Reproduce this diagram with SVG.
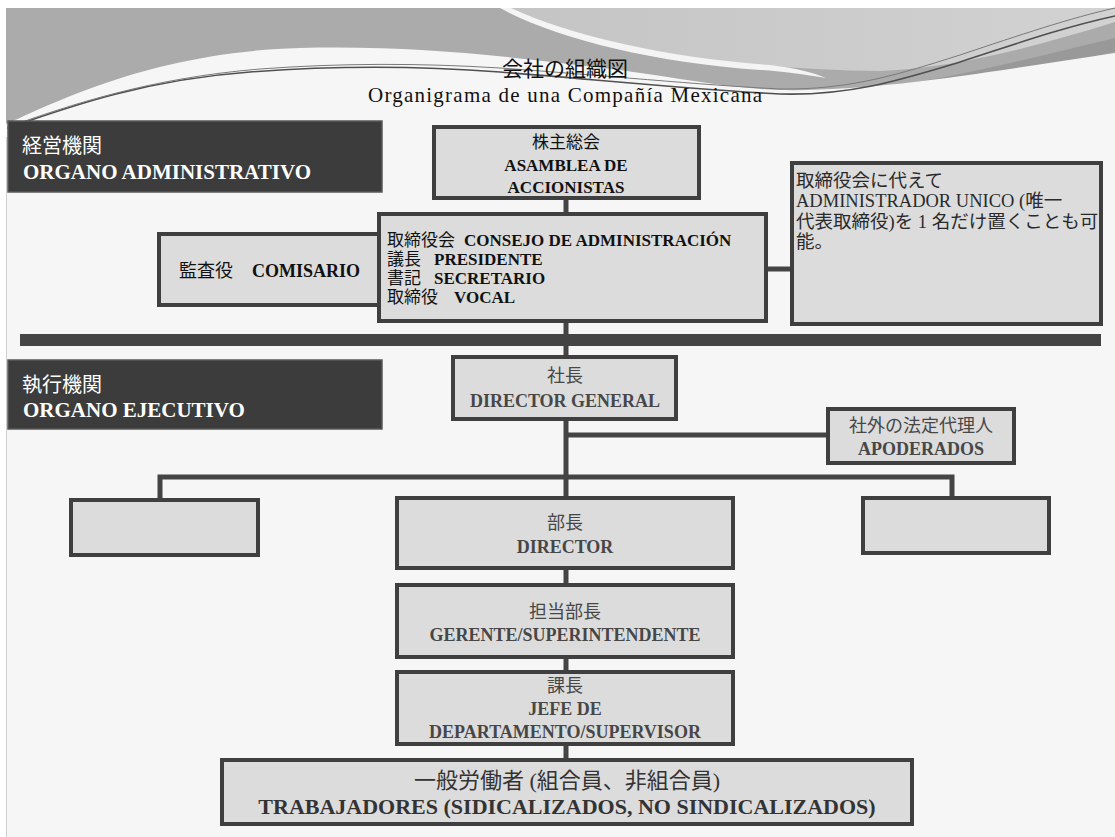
<svg xmlns="http://www.w3.org/2000/svg" width="1115" height="837" viewBox="0 0 1115 837">
  <defs>
    <linearGradient id="hdrLight" x1="0" y1="0" x2="1" y2="0">
      <stop offset="0" stop-color="#c4c4c4"/>
      <stop offset="1" stop-color="#d2d2d2"/>
    </linearGradient>
    <style>
      .box { fill: #dcdcdc; stroke: #3f3f3f; stroke-width: 4; }
      .band { fill: #3c3c3c; stroke: #5a5a5a; stroke-width: 1.5; }
      .link { fill: none; stroke: #444444; stroke-width: 5; stroke-linejoin: miter; }
      .t { font-family: "Liberation Serif", "Noto Sans CJK JP", serif; }
      .lat { font-family: "Liberation Serif", serif; }
      .b { font-weight: bold; }
      .top { fill: #111111; font-size: 17px; }
      .low { fill: #474747; font-size: 18px; text-anchor: middle; }
      .band-jp { fill: #ffffff; font-size: 20px; }
      .band-es { fill: #ffffff; font-size: 21px; font-weight: bold; }
      .curve { fill: none; stroke-linecap: round; }
    </style>
  </defs>

  <!-- page -->
  <rect x="0" y="0" width="1115" height="837" fill="#ffffff"/>
  <rect x="6" y="8" width="1109" height="829" fill="#f6f6f6"/>
  <line x1="6.5" y1="8" x2="6.5" y2="837" stroke="#cfcfcf" stroke-width="1"/>

  <!-- header swoosh -->
  <g id="header">
    <rect x="6" y="8" width="1109" height="125" fill="#ababab"/>
    <path d="M505,8 C560,35 660,58 760,65 C800,68 840,71 880,71 C960,68 1040,45 1115,22 V8 Z" fill="url(#hdrLight)"/>
    <path d="M500,8 L511,8 C570,36 670,58 770,65 C795,68 815,73 826,78 C800,74 780,71 760,70 C650,62 555,38 500,8 Z" fill="#f4f4f4"/>
    <path d="M870,88 C950,80 1030,58 1115,38 V52 C1030,70 950,86 870,90 Z" fill="#999999"/>
    <path d="M6,137 L6,124 C50,105 150,52 300,48 C420,45 520,58 620,70 C690,80 730,88 780,90 C880,92 1000,70 1115,53 V137 Z" fill="#f6f6f6"/>
    <path class="curve" d="M8,128 C60,110 140,80 250,72 C330,66 420,66 500,72 C600,80 700,90 780,94 C850,96 900,80 960,62 C1010,46 1060,28 1115,16" stroke="#505050" stroke-width="1.6"/>
    <path class="curve" d="M8,127 C70,105 150,78 260,69 C340,63 420,63 500,68 C600,75 700,85 780,89 C850,90 900,74 960,55 C1020,35 1070,18 1115,8" stroke="#7a7a7a" stroke-width="1"/>
    <text class="t" x="565" y="76" font-size="21" text-anchor="middle" fill="#111111">会社の組織図</text>
    <text class="lat" x="368" y="102" font-size="21" textLength="394" lengthAdjust="spacing" fill="#111111">Organigrama de una Compañía Mexicana</text>
  </g>

  <!-- section labels -->
  <g id="band-admin">
    <rect class="band" x="8" y="121" width="374" height="71"/>
    <text class="t band-jp" x="22" y="153">経営機関</text>
    <text class="t band-es" x="23" y="179">ORGANO ADMINISTRATIVO</text>
  </g>
  <g id="band-exec">
    <rect class="band" x="8" y="360" width="374" height="69"/>
    <text class="t band-jp" x="22" y="392">執行機関</text>
    <text class="t band-es" x="23" y="417">ORGANO EJECUTIVO</text>
  </g>

  <!-- divider between governing and executive bodies -->
  <g id="divider">
    <rect x="20" y="334" width="1081" height="12" fill="#444444"/>
  </g>

  <!-- connectors -->
  <g id="connectors">
    <path class="link" d="M566,198 V214"/>
    <path class="link" d="M566,321 V357"/>
    <path class="link" d="M766,269 H792"/>
    <path class="link" d="M566,419 V498"/>
    <path class="link" d="M566,435 H828"/>
    <path class="link" d="M160,500 V477 H952 V498"/>
    <path class="link" d="M566,568 V585"/>
    <path class="link" d="M566,657 V672"/>
    <path class="link" d="M566,744 V760"/>
  </g>

  <!-- nodes -->
  <g id="node-asamblea">
    <rect class="box" x="434" y="127" width="265" height="71"/>
    <text class="t top" x="566" y="148" text-anchor="middle">株主総会</text>
    <text class="t top b" x="566" y="171" text-anchor="middle">ASAMBLEA DE</text>
    <text class="t top b" x="566" y="193" text-anchor="middle">ACCIONISTAS</text>
  </g>

  <g id="node-consejo">
    <rect class="box" x="379" y="214" width="387" height="107"/>
    <text class="t top" x="387" y="246">取締役会<tspan class="b lat" x="464">CONSEJO DE ADMINISTRACIÓN</tspan></text>
    <text class="t top" x="387" y="265">議長<tspan class="b lat" x="434">PRESIDENTE</tspan></text>
    <text class="t top" x="387" y="284">書記<tspan class="b lat" x="434">SECRETARIO</tspan></text>
    <text class="t top" x="387" y="303">取締役<tspan class="b lat" x="454">VOCAL</tspan></text>
  </g>

  <g id="node-comisario">
    <rect class="box" x="159" y="234" width="220" height="71"/>
    <text class="t" x="179" y="277" font-size="18" fill="#111111">監査役<tspan class="b lat" x="252">COMISARIO</tspan></text>
  </g>

  <g id="node-administrador">
    <rect class="box" x="792" y="163" width="309" height="161"/>
    <text class="t" font-size="18.5" fill="#2a2a2a">
      <tspan x="796" y="187">取締役会に代えて</tspan>
      <tspan x="796" y="207"><tspan class="lat">ADMINISTRADOR UNICO (</tspan>唯一</tspan>
      <tspan x="796" y="228">代表取締役<tspan class="lat">)</tspan>を<tspan class="lat"> 1 </tspan>名だけ置くことも可</tspan>
      <tspan x="796" y="248">能。</tspan>
    </text>
  </g>

  <g id="node-director-general">
    <rect class="box" x="453" y="357" width="223" height="62"/>
    <text class="t low" x="565" y="382">社長</text>
    <text class="t low b" x="565" y="407">DIRECTOR GENERAL</text>
  </g>

  <g id="node-apoderados">
    <rect class="box" x="828" y="409" width="186" height="54"/>
    <text class="t low" x="921" y="432">社外の法定代理人</text>
    <text class="t low b" x="921" y="455">APODERADOS</text>
  </g>

  <g id="node-left">
    <rect class="box" x="71" y="500" width="187" height="55"/>
  </g>

  <g id="node-right">
    <rect class="box" x="863" y="498" width="186" height="55"/>
  </g>

  <g id="node-director">
    <rect class="box" x="397" y="498" width="336" height="70"/>
    <text class="t low" x="565" y="529">部長</text>
    <text class="t low b" x="565" y="553">DIRECTOR</text>
  </g>

  <g id="node-gerente">
    <rect class="box" x="397" y="585" width="336" height="72"/>
    <text class="t low" x="565" y="618">担当部長</text>
    <text class="t low b" x="565" y="641">GERENTE/SUPERINTENDENTE</text>
  </g>

  <g id="node-jefe">
    <rect class="box" x="397" y="672" width="336" height="72"/>
    <text class="t low" x="565" y="692">課長</text>
    <text class="t low b" x="565" y="715">JEFE DE</text>
    <text class="t low b" x="565" y="738">DEPARTAMENTO/SUPERVISOR</text>
  </g>

  <g id="node-trabajadores">
    <rect class="box" x="222" y="760" width="690" height="64"/>
    <text class="t" x="567" y="788" font-size="22" text-anchor="middle" fill="#333333">一般労働者 (組合員、非組合員)</text>
    <text class="t b" x="567" y="814" font-size="22" text-anchor="middle" fill="#333333">TRABAJADORES (SIDICALIZADOS, NO SINDICALIZADOS)</text>
  </g>
</svg>
